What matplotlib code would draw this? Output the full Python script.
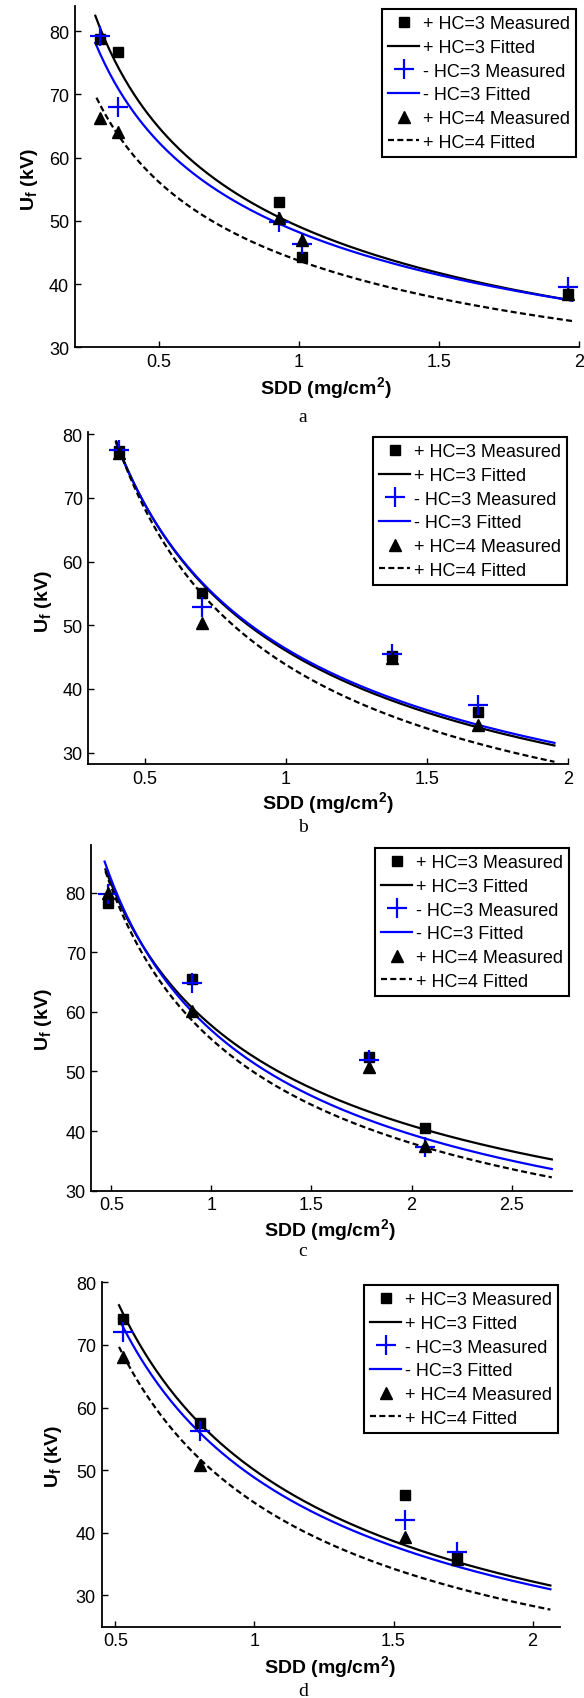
import numpy as np
import matplotlib.pyplot as plt

plt.rcParams['font.family'] = ['Liberation Sans', 'DejaVu Sans']
plt.rcParams['mathtext.fontset'] = 'custom'
plt.rcParams['mathtext.rm'] = 'Liberation Sans'
plt.rcParams['mathtext.bf'] = 'Liberation Sans:bold'
plt.rcParams['mathtext.it'] = 'Liberation Sans:italic'

# ---- measured data (SDD in mg/cm2, Uf in kV) ----
sdd_a = [0.291, 0.354, 0.93, 1.01, 1.96]
pos3_a = [78.8, 76.7, 53.0, 44.3, 38.4]
neg3_a = [79.2, 68.0, 49.8, 46.3, 39.5]
pos4_a = [66.3, 64.1, 50.5, 47.0, 38.5]

sdd_b = [0.407, 0.703, 1.375, 1.68]
pos3_b = [77.4, 55.1, 45.2, 36.3]
neg3_b = [77.5, 52.8, 45.5, 37.4]
pos4_b = [77.0, 50.3, 44.8, 34.3]

sdd_c = [0.485, 0.904, 1.789, 2.068]
pos3_c = [78.3, 65.6, 52.5, 40.6]
neg3_c = [79.7, 64.8, 52.0, 37.4]
pos4_c = [80.0, 60.2, 50.7, 37.5]

sdd_d = [0.529, 0.804, 1.541, 1.729]
pos3_d = [74.1, 57.5, 46.0, 36.0]
neg3_d = [72.1, 56.3, 42.0, 37.0]
pos4_d = [68.0, 50.9, 39.3, 35.8]

# ---- fitted power laws Uf = A * SDD^n (A, n, x start, x end) ----
fit_pos3 = {'a': (49.1, -0.40, 0.274, 1.976), 'b': (46.0, -0.585, 0.398, 1.952),
            'c': (57.7, -0.496, 0.470, 2.701), 'd': (50.0, -0.634, 0.513, 2.064)}
fit_neg3 = {'a': (48.2, -0.373, 0.274, 1.976), 'b': (46.3, -0.575, 0.398, 1.952),
            'c': (56.9, -0.529, 0.466, 2.701), 'd': (48.8, -0.627, 0.513, 2.064)}
fit_pos4 = {'a': (43.7, -0.362, 0.278, 1.976), 'b': (43.8, -0.640, 0.398, 1.952),
            'c': (55.4, -0.545, 0.470, 2.701), 'd': (44.8, -0.662, 0.513, 2.064)}

panels = {
    'a': (sdd_a, pos3_a, neg3_a, pos4_a),
    'b': (sdd_b, pos3_b, neg3_b, pos4_b),
    'c': (sdd_c, pos3_c, neg3_c, pos4_c),
    'd': (sdd_d, pos3_d, neg3_d, pos4_d),
}

xlims = {'a': (0.2, 2.0), 'b': (0.3, 2.0), 'c': (0.4, 2.8), 'd': (0.45, 2.1)}
ylims = {'a': (30, 84), 'b': (28.2, 80.3), 'c': (30, 88), 'd': (25, 80.1)}
xticks = {'a': [0.5, 1, 1.5, 2], 'b': [0.5, 1, 1.5, 2],
          'c': [0.5, 1, 1.5, 2, 2.5], 'd': [0.5, 1, 1.5, 2]}
xticklabels = {'a': ['0.5', '1', '1.5', '2'], 'b': ['0.5', '1', '1.5', '2'],
               'c': ['0.5', '1', '1.5', '2', '2.5'], 'd': ['0.5', '1', '1.5', '2']}
yticks = [30, 40, 50, 60, 70, 80]

labels = ['+ HC=3 Measured', '+ HC=3 Fitted', '- HC=3 Measured',
          '- HC=3 Fitted', '+ HC=4 Measured', '+ HC=4 Fitted']

# layout in pixels: axes (left, top, right, bottom), legend top-right, ylabel, xlabel, caption
W, H = 584.0, 1699.0
layout = {
    'a': dict(box=(74.6, 6.7, 579, 348.3), leg=(576, 10), ylab=(30, 180), xlab=(326, 388), cap=(303, 418)),
    'b': dict(box=(88.4, 433.3, 568, 765), leg=(567, 438), ylab=(43, 602), xlab=(328, 803), cap=(303, 828)),
    'c': dict(box=(91.4, 846, 571.6, 1191.7), leg=(569, 849), ylab=(44, 1020), xlab=(330, 1230), cap=(303, 1252)),
    'd': dict(box=(101.5, 1282.7, 560.4, 1627.7), leg=(558, 1286), ylab=(53, 1457), xlab=(330, 1667), cap=(303, 1692)),
}

fig = plt.figure(figsize=(W / 100, H / 100), dpi=100)

for key in ['a', 'b', 'c', 'd']:
    lay = layout[key]
    l, t, r, b = lay['box']
    ax = fig.add_axes([l / W, 1 - b / H, (r - l) / W, (b - t) / H])
    sdd, pos3, neg3, pos4 = panels[key]

    curves = []
    for fit, style in [(fit_pos3[key], dict(color='black', lw=1.6)),
                       (fit_neg3[key], dict(color='blue', lw=1.6)),
                       (fit_pos4[key], dict(color='black', lw=1.6, ls=(0, (2.7, 1.5))))]:
        A, n, x0, x1 = fit
        xx = np.linspace(x0, x1, 200)
        ln, = ax.plot(xx, A * xx ** n, **style)
        curves.append(ln)

    m1, = ax.plot(sdd, pos3, 's', color='black', ms=7, ls='none')
    m2, = ax.plot(sdd, neg3, '+', color='blue', ms=15, mew=1.6, ls='none')
    m3, = ax.plot(sdd, pos4, '^', color='black', ms=8, ls='none')
    handles = [m1, curves[0], m2, curves[1], m3, curves[2]]

    ax.set_xlim(*xlims[key])
    ax.set_ylim(*ylims[key])
    ax.set_xticks(xticks[key])
    ax.set_xticklabels(xticklabels[key])
    ax.set_yticks(yticks)
    ax.tick_params(direction='in', length=4, width=1, labelsize=13, pad=4)
    for s in ['top', 'right']:
        ax.spines[s].set_visible(False)
    for s in ['left', 'bottom']:
        ax.spines[s].set_linewidth(1.3)

    leg = ax.legend(handles, labels, loc='upper right',
                    bbox_to_anchor=(lay['leg'][0] / W, 1 - lay['leg'][1] / H),
                    bbox_transform=fig.transFigure, borderaxespad=0,
                    fontsize=13, fancybox=False, framealpha=1, edgecolor='black',
                    handlelength=1.7, handletextpad=0.2, borderpad=0.35,
                    labelspacing=0.37)
    leg.get_frame().set_linewidth(1.5)

    fig.text(lay['ylab'][0] / W, 1 - lay['ylab'][1] / H, r'$\mathbf{U_f}$ (kV)',
             rotation=90, ha='center', va='center', fontsize=14, fontweight='bold')
    fig.text(lay['xlab'][0] / W, 1 - lay['xlab'][1] / H, r'SDD (mg/cm$^\mathbf{2}$)',
             ha='center', va='center', fontsize=14, fontweight='bold')
    fig.text(lay['cap'][0] / W, 1 - lay['cap'][1] / H, key,
             ha='center', va='center', fontsize=14, family='Liberation Serif')

fig.savefig('out.png', dpi=100)
